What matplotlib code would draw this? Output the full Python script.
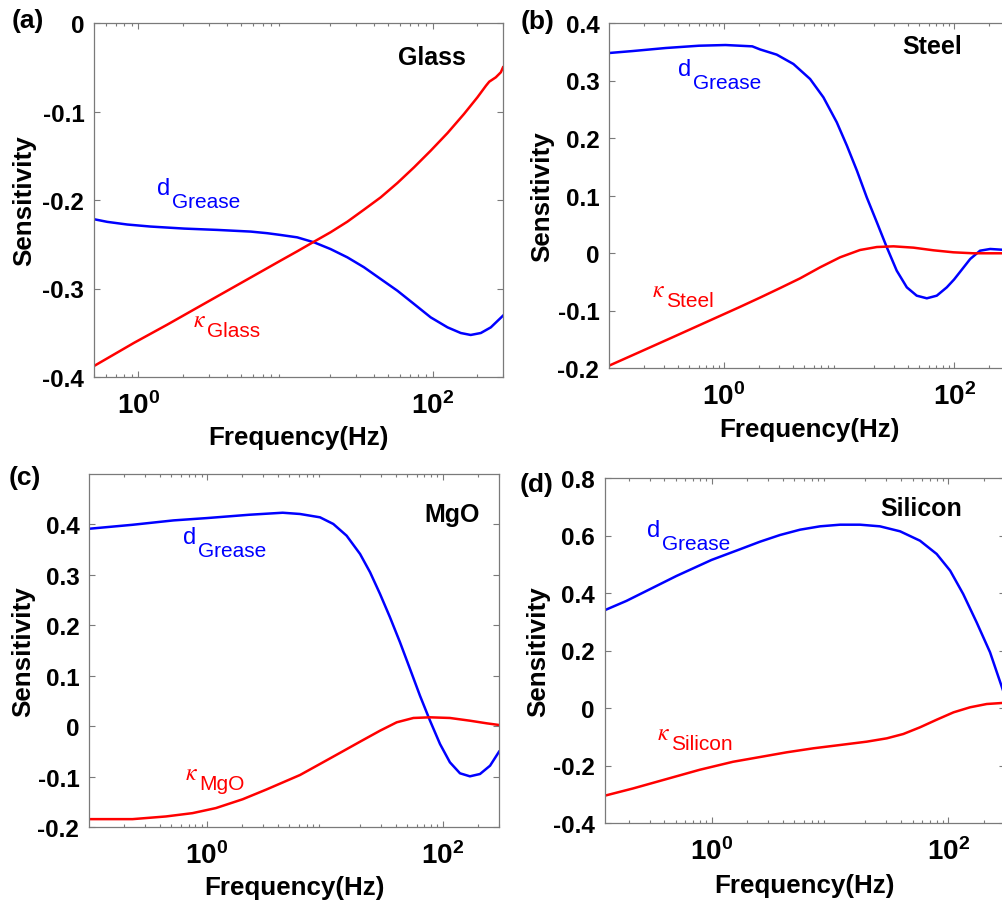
import numpy as np
import matplotlib
matplotlib.use('Agg')
import matplotlib.pyplot as plt

plt.rcParams['font.family'] = ['Liberation Sans', 'DejaVu Sans']
plt.rcParams['mathtext.fontset'] = 'custom'
plt.rcParams['mathtext.rm'] = 'Liberation Sans'
plt.rcParams['mathtext.bf'] = 'Liberation Sans:bold'
plt.rcParams['mathtext.it'] = 'Liberation Sans:italic'
plt.rcParams['axes.unicode_minus'] = False

# ---- data (frequency in Hz, sensitivity) ----
# (a) Glass
f_a_d = [0.5, 0.615, 0.841, 1.21, 2.05, 3.44, 5.81, 7.5, 9.25, 12.0, 15.6, 20.2,
         26.3, 34.1, 44.3, 57.5, 74.6, 96.8, 126, 155, 181, 212, 248, 300]
s_a_d = [-0.2217, -0.2247, -0.2277, -0.2300, -0.2323, -0.2338, -0.2357, -0.2375,
         -0.2395, -0.2422, -0.2478, -0.2554, -0.2648, -0.2760, -0.2893, -0.3025,
         -0.3175, -0.3326, -0.3439, -0.3503, -0.3525, -0.3503, -0.3439, -0.3307]
f_a_k = [0.5, 0.935, 1.57, 2.65, 4.48, 7.55, 9.25, 12.0, 15.6, 20.2, 26.3, 34.1,
         44.3, 57.5, 74.6, 96.8, 126, 163, 201, 230, 242, 268, 290, 300]
s_a_k = [-0.3876, -0.3614, -0.3409, -0.3195, -0.2981, -0.2768, -0.2685, -0.2580,
         -0.2471, -0.2365, -0.2245, -0.2109, -0.1970, -0.1808, -0.1631, -0.1443,
         -0.1243, -0.1028, -0.0840, -0.0708, -0.0663, -0.0614, -0.0557, -0.0501]

# (b) Steel
f_b_d = [0.1, 0.16, 0.311, 0.606, 1.03, 1.76, 2.06, 2.87, 4.01, 5.60, 7.31, 9.55,
         11.7, 14.3, 17.4, 21.3, 26.0, 31.7, 38.8, 47.3, 57.9, 70.7, 86.4, 100,
         113, 138, 168, 206, 261, 300]
s_b_d = [0.3478, 0.3512, 0.3565, 0.3605, 0.3617, 0.3594, 0.3540, 0.3450, 0.3287,
         0.3026, 0.2707, 0.2273, 0.1866, 0.1431, 0.0968, 0.0534, 0.0099, -0.0307,
         -0.0597, -0.0742, -0.0788, -0.0742, -0.0597, -0.0460, -0.0325, -0.0104,
         0.0040, 0.0070, 0.0057, 0.0045]
f_b_k = [0.1, 0.182, 0.356, 0.693, 1.35, 2.06, 3.07, 4.58, 6.84, 10.2, 15.2, 21.3,
         29.7, 44.3, 66.1, 98.6, 147, 261, 300]
s_b_k = [-0.1960, -0.1728, -0.1467, -0.1206, -0.0945, -0.0775, -0.0610, -0.0441,
         -0.0249, -0.0075, 0.0052, 0.0104, 0.0116, 0.0093, 0.0047, 0.0012, -0.0005,
         -0.0005, -0.0005]

# (c) MgO
f_c_d = [0.1, 0.234, 0.521, 1.0, 2.29, 4.39, 6.16, 9.10, 11.8, 15.3, 19.9, 24.2,
         29.4, 35.7, 43.4, 52.8, 64.1, 78.0, 94.8, 115, 140, 170, 207, 252, 300]
s_c_d = [0.3914, 0.3993, 0.4080, 0.4126, 0.4192, 0.4232, 0.4207, 0.4141, 0.4009,
         0.3777, 0.3414, 0.3051, 0.2620, 0.2158, 0.1663, 0.1133, 0.0604, 0.0108,
         -0.0354, -0.0717, -0.0935, -0.0995, -0.0949, -0.0784, -0.0507]
f_c_k = [0.1, 0.234, 0.449, 0.755, 1.19, 2.01, 3.17, 6.16, 9.10, 13.4, 19.9, 29.4,
         40.7, 56.4, 78.0, 115, 170, 236, 300]
s_c_k = [-0.1844, -0.1844, -0.1791, -0.1725, -0.1625, -0.1450, -0.1260, -0.0969,
         -0.0750, -0.0532, -0.0308, -0.0090, 0.0076, 0.0162, 0.0175, 0.0162, 0.0108,
         0.0056, 0.0023]

# (d) Silicon
f_d_d = [0.125, 0.191, 0.301, 0.506, 1.0, 1.74, 2.57, 3.79, 5.60, 8.26, 12.2, 18.0,
         26.5, 39.2, 57.8, 80.0, 104, 134, 174, 226, 285, 300]
s_d_d = [0.3401, 0.3726, 0.4131, 0.4594, 0.5150, 0.5521, 0.5785, 0.6017, 0.6202,
         0.6319, 0.6376, 0.6376, 0.6319, 0.6146, 0.5819, 0.5357, 0.4777, 0.3965,
         0.2981, 0.1937, 0.0719, 0.0450]
f_d_k = [0.125, 0.218, 0.417, 0.797, 1.52, 2.57, 4.32, 7.25, 12.2, 20.5, 30.3, 41.8,
         57.8, 80.0, 111, 153, 212, 285, 300]
s_d_k = [-0.3051, -0.2796, -0.2471, -0.2147, -0.1870, -0.1705, -0.1541, -0.1402,
         -0.1287, -0.1171, -0.1055, -0.0904, -0.0672, -0.0407, -0.0151, 0.0024,
         0.0139, 0.0174, 0.0178]

materials = ['Glass', 'Steel', 'MgO', 'Silicon']
panel_tags = ['(a)', '(b)', '(c)', '(d)']
x_limits = [(0.5, 300), (0.1, 300), (0.1, 300), (0.125, 300)]
y_limits = [(-0.4, 0.0), (-0.2, 0.4), (-0.2, 0.5), (-0.4, 0.8)]
y_ticks = [[-0.4, -0.3, -0.2, -0.1, 0.0],
           [-0.2, -0.1, 0.0, 0.1, 0.2, 0.3, 0.4],
           [-0.2, -0.1, 0.0, 0.1, 0.2, 0.3, 0.4],
           [-0.4, -0.2, 0.0, 0.2, 0.4, 0.6, 0.8]]
y_ticklabels = [['-0.4', '-0.3', '-0.2', '-0.1', '0'],
                ['-0.2', '-0.1', '0', '0.1', '0.2', '0.3', '0.4'],
                ['-0.2', '-0.1', '0', '0.1', '0.2', '0.3', '0.4'],
                ['-0.4', '-0.2', '0', '0.2', '0.4', '0.6', '0.8']]
x_ticks = [1, 100]
x_ticklabels = [r'$\mathbf{10^{0}}$', r'$\mathbf{10^{2}}$']

curves = [(f_a_d, s_a_d, f_a_k, s_a_k),
          (f_b_d, s_b_d, f_b_k, s_b_k),
          (f_c_d, s_c_d, f_c_k, s_c_k),
          (f_d_d, s_d_d, f_d_k, s_d_k)]

W, H = 1002, 903
fig = plt.figure(figsize=(W / 100, H / 100), dpi=100)

# axes boxes in pixels: left, top, right, bottom
boxes = [(94, 24, 503, 378), (609, 24, 1009, 369),
         (89, 475, 499, 828), (604.7, 479, 1004.6, 824)]
ylab_x = [-0.142, -0.138, -0.132, -0.137]
xlab_y = [-0.136, -0.143, -0.136, -0.145]

# text anchors in pixels (left, baseline)
d_pos = [(157, 195), (678, 76), (183, 544), (647, 537)]
k_pos = [(193, 327), (652, 297), (185, 780), (657, 740)]
name_pos = [(398, 65), (902, 54), (424, 522), (880, 516)]
tag_pos = [(12, 28), (521, 29), (9, 485), (520, 492)]

gray = '#7a7a7a'
blue = '#0000ff'
red = '#ff0000'


def fx(x):
    return x / W


def fy(y):
    return 1 - y / H


for i in range(4):
    l, t, r, b = boxes[i]
    ax = fig.add_axes([l / W, 1 - b / H, (r - l) / W, (b - t) / H])
    fd, sd, fk, sk = curves[i]
    ax.plot(fd, sd, color=blue, lw=1.8)
    ax.plot(fk, sk, color=red, lw=1.8)
    ax.set_xscale('log')
    ax.set_xlim(*x_limits[i])
    ax.set_ylim(*y_limits[i])
    ax.set_yticks(y_ticks[i])
    ax.set_yticklabels(y_ticklabels[i], fontsize=17.5, fontweight='bold')
    ax.set_xticks(x_ticks)
    ax.set_xticklabels(x_ticklabels, fontsize=20)
    ax.tick_params(which='both', direction='in', top=True, right=True,
                   color=gray, width=0.8)
    ax.tick_params(which='major', length=4, pad=7)
    ax.tick_params(which='minor', length=2.5)
    ax.tick_params(axis='x', which='major', pad=10)
    for sp in ax.spines.values():
        sp.set_color(gray)
        sp.set_linewidth(0.9)
    ax.set_ylabel('Sensitivity', fontsize=18.7, fontweight='bold')
    ax.yaxis.set_label_coords(ylab_x[i], 0.5)
    ax.set_xlabel('Frequency(Hz)', fontsize=18.7, fontweight='bold')
    ax.xaxis.set_label_coords(0.5, xlab_y[i])

    # curve labels
    x0, y0 = d_pos[i]
    fig.text(fx(x0), fy(y0), 'd', color=blue, fontsize=17)
    fig.text(fx(x0 + 15), fy(y0 + 13), 'Grease', color=blue, fontsize=15)
    x0, y0 = k_pos[i]
    fig.text(fx(x0), fy(y0), r'$\kappa$', color=red, fontsize=17,
             math_fontfamily='stix')
    fig.text(fx(x0 + 14), fy(y0 + 10), materials[i], color=red, fontsize=15)

    x0, y0 = name_pos[i]
    fig.text(fx(x0), fy(y0), materials[i], fontsize=18, fontweight='bold')
    x0, y0 = tag_pos[i]
    fig.text(fx(x0), fy(y0), panel_tags[i], fontsize=19, fontweight='bold')

fig.savefig('out.png', dpi=100)
